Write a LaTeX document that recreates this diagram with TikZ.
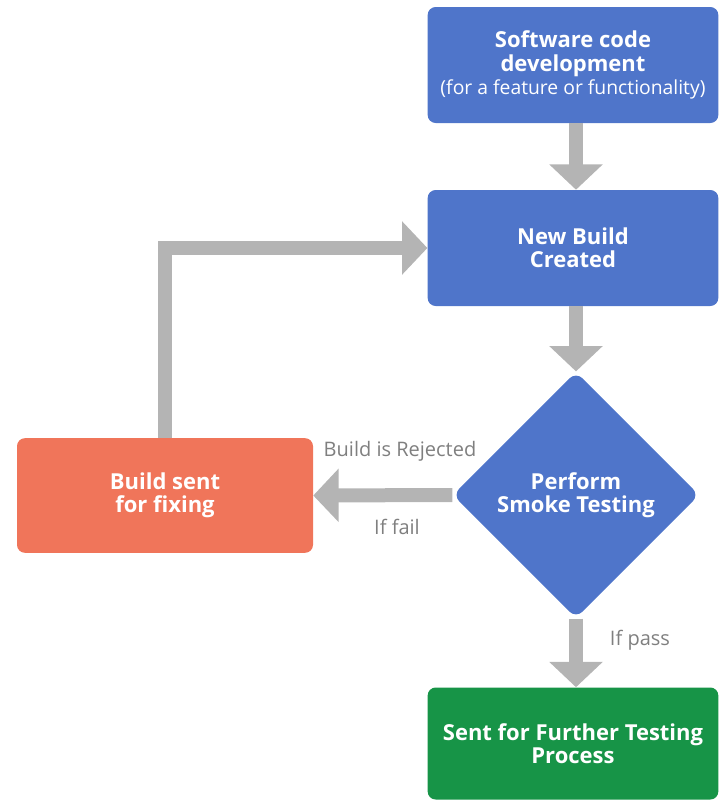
\documentclass[tikz,border=0pt]{standalone}
\usepackage{fontspec}
\setmainfont{Open Sans}
\usetikzlibrary{arrows.meta,shapes.geometric}
\definecolor{boxblue}{HTML}{4F75CA}
\definecolor{boxorange}{HTML}{F0755A}
\definecolor{boxgreen}{HTML}{179447}
\definecolor{arrowgray}{HTML}{B4B4B4}
\definecolor{labelgray}{HTML}{7F7F7F}
\tikzset{
  procbox/.style={rectangle, rounded corners=6pt, text=white, align=center,
    font=\fontsize{16.5}{17.5}\selectfont\bfseries, inner sep=0pt},
  decbox/.style={diamond, aspect=1, rounded corners=7pt, fill=boxblue, text=white, align=center,
    font=\fontsize{16.5}{17.5}\selectfont\bfseries, inner sep=0pt, minimum width=185pt, minimum height=185pt},
  flow/.style={draw=arrowgray, line width=10.5pt, -{Triangle[width=39pt,length=19pt]}},
  lbl/.style={text=labelgray, font=\fontsize{15}{17}\selectfont}
}
\begin{document}
\begin{tikzpicture}[x=0.75pt,y=-0.75pt]
\useasboundingbox (0,0) rectangle (720,801);
\node[procbox, fill=boxblue, minimum width=218pt, minimum height=87pt] (top) at (573,65)
  {Software code\\development\\{\mdseries\fontsize{14.5}{17.5}\selectfont (for a feature or functionality)}};
\node[procbox, fill=boxblue, minimum width=218pt, minimum height=87pt] (build) at (573,248)
  {New Build\\Created};
\node[decbox] (smoke) at (576,495) {Perform\\Smoke Testing};
\node[procbox, fill=boxorange, minimum width=222pt, minimum height=86pt] (fix) at (165,495.5)
  {Build sent\\for fixing};
\node[procbox, fill=boxgreen, minimum width=218pt, minimum height=84pt] (further) at (573,743.5)
  {Sent for Further Testing\\Process};
\draw[flow] (smoke.south |- top.south) -- (smoke.north |- build.north);
\draw[flow] (smoke.north |- build.south) -- (smoke.north);
\draw[flow] (smoke.west) -- (fix.east);
\draw[flow] (smoke.south) -- (smoke.south |- further.north);
\draw[flow] (fix.north) |- (build.west);
\node[lbl] (rej) at (400,451) {Build is Rejected};
\node[lbl] (fail) at (397,527) {If fail};
\node[lbl] (pass) at (640,640) {If pass};
\end{tikzpicture}
\end{document}
